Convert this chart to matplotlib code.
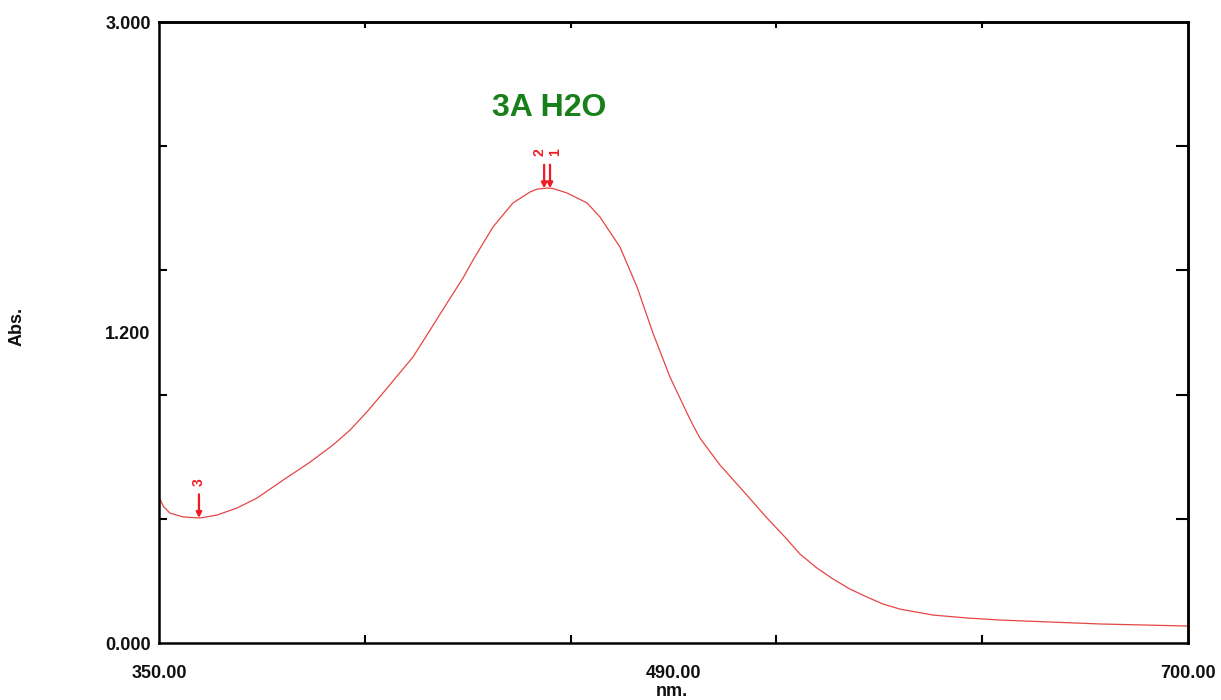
import numpy as np
import matplotlib.pyplot as plt

# spectrum (wavelength nm, absorbance)
wavelength = [350.0, 351.5, 353.7, 358.2, 363.9, 369.7, 376.5, 383.3, 392.2, 401.4,
              409.2, 415.0, 420.7, 426.2, 431.0, 436.4, 442.2, 448.0, 453.4, 456.8,
              463.6, 470.4, 476.2, 478.6, 482.0, 484.0, 488.8, 495.6, 500.0, 506.8,
              512.6, 518.0, 523.8, 529.6, 531.6, 534.0, 540.8, 549.3, 556.8, 562.9,
              568.0, 573.8, 579.3, 585.0, 590.8, 596.3, 602.0, 613.3, 624.8, 636.1,
              670.1, 700.0]
absorbance = [0.705, 0.660, 0.628, 0.609, 0.604, 0.618, 0.652, 0.700, 0.787, 0.874,
              0.957, 1.029, 1.116, 1.208, 1.290, 1.382, 1.512, 1.643, 1.763, 1.850,
              2.010, 2.126, 2.179, 2.193, 2.198, 2.196, 2.174, 2.126, 2.058, 1.913,
              1.720, 1.498, 1.285, 1.111, 1.053, 0.990, 0.860, 0.725, 0.604, 0.512,
              0.430, 0.362, 0.309, 0.261, 0.222, 0.188, 0.164, 0.135, 0.121, 0.111,
              0.092, 0.082]

# peak / valley picks
pick_nm = [481.0, 483.0, 363.6]
pick_labels = ["2", "1", "3"]

x_ticklabels = ["350.00", "490.00", "700.00"]
y_ticklabels = ["0.000", "1.200", "3.000"]

plt.rcParams['font.family'] = ['Liberation Sans', 'DejaVu Sans']
plt.rcParams['font.weight'] = 'bold'

fig = plt.figure(figsize=(12.21, 7.0), dpi=100)
ax = fig.add_axes([0.1302, 0.0814, 0.8428, 0.8871])

ax.plot(wavelength, absorbance, color='#e64545', lw=0.9)

# small sideways nudge so the adjacent pick numbers don't sit on top of each other
nudge = [-3.5, 3.5, 0]
for nm, lab, dx in zip(pick_nm, pick_labels, nudge):
    a = np.interp(nm, wavelength, absorbance)
    ax.annotate("", xy=(nm, a), xytext=(0, 17), textcoords='offset points',
                arrowprops=dict(arrowstyle='-|>', color='#ee1c25', lw=1.6,
                                mutation_scale=8, shrinkA=0, shrinkB=0))
    ax.annotate(lab, xy=(nm, a), xytext=(dx, 26), textcoords='offset points',
                rotation=90, ha='center', va='center', color='#ee1c25',
                fontsize=10, fontweight='bold')

ax.set_xlim(350, 700)
ax.set_ylim(0, 3.0)

# labels at min / middle / max, as the instrument prints them
ax.set_xticks([350, 525, 700])
ax.set_xticklabels(x_ticklabels)
ax.set_yticks([0, 1.5, 3.0])
ax.set_yticklabels(y_ticklabels)
ax.set_xticks([420, 490, 560, 630], minor=True)
ax.set_yticks([0.6, 1.2, 1.8, 2.4], minor=True)
ax.tick_params(which='major', length=0, labelsize=13, labelcolor='#111111')
ax.tick_params(axis='x', which='major', pad=16)
ax.tick_params(axis='y', which='major', pad=6)
ax.tick_params(which='minor', direction='in', length=5.5, width=1.5, color='black')

top = ax.secondary_xaxis('top')
top.set_xticks([420, 490, 560, 630])
top.tick_params(direction='in', length=4, width=1.5, labeltop=False)
right = ax.secondary_yaxis('right')
right.set_yticks([0.6, 1.2, 1.8, 2.4])
right.tick_params(direction='in', length=9, width=1.5, labelright=False)

for s in list(ax.spines.values()) + [top.spines['top'], right.spines['right']]:
    s.set_linewidth(1.8)
    s.set_color('black')

ax.set_xlabel("nm.", fontsize=13, fontweight='bold', color='#111111')
ax.xaxis.set_label_coords(0.4985, -0.064)
ax.set_ylabel("Abs.", fontsize=13, fontweight='bold', color='#111111')
ax.yaxis.set_label_coords(-0.130, 0.51)

ax.text(0.379, 0.8615, "3A H2O", transform=ax.transAxes, ha='center', va='center',
        fontsize=23, fontweight='bold', color='#188018')

fig.savefig("out.png", dpi=100)
